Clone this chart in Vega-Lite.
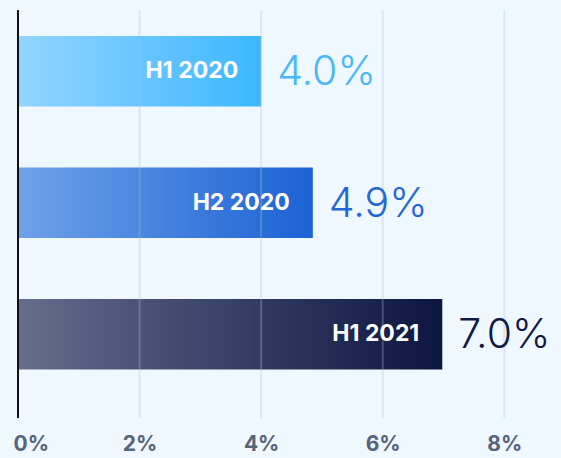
{
  "$schema": "https://vega.github.io/schema/vega-lite/v6.json",
  "width": 541,
  "height": 408,
  "autosize": {"type": "none"},
  "padding": {"left": 18, "top": 10, "right": 2, "bottom": 40},
  "background": "#eff7ff",
  "config": {"view": {"stroke": null}, "font": "Inter"},
  "datasets": {
    "bars": [
      {"period": "H1 2020", "share": 4.0, "label": "4.0%"},
      {"period": "H2 2020", "share": 4.85, "label": "4.9%"},
      {"period": "H1 2021", "share": 6.98, "label": "7.0%"}
    ],
    "grid": [{"g": 2}, {"g": 4}, {"g": 6}, {"g": 8}],
    "zero": [{"g": 0}]
  },
  "layer": [
    {
      "data": {"name": "bars"},
      "mark": {"type": "bar"},
      "encoding": {
        "y": {"field": "period", "type": "nominal", "sort": null, "axis": null,
              "scale": {"range": [0, 385.5], "paddingInner": 0.4639, "paddingOuter": 0.1977}},
        "x": {"field": "share", "type": "quantitative",
              "scale": {"domain": [0, 8.9], "nice": false},
              "axis": {"values": [0, 2, 4, 6, 8], "labelExpr": "datum.value + '%'", "grid": false, "domain": false, "ticks": false,
                       "title": null, "labelFont": "Inter", "labelFontWeight": "bold", "labelFontSize": 21, "labelColor": "#56657a",
                       "labelPadding": 15, "labelFlush": true, "labelFlushOffset": 5}},
        "fill": {
          "condition": [
            {"test": "datum.period === 'H1 2020'", "value": {"gradient": "linear", "x1": 0, "y1": 0, "x2": 1, "y2": 0,
              "stops": [{"offset": 0, "color": "#93d5fe"}, {"offset": 1, "color": "#3db7ff"}]}},
            {"test": "datum.period === 'H2 2020'", "value": {"gradient": "linear", "x1": 0, "y1": 0, "x2": 1, "y2": 0,
              "stops": [{"offset": 0, "color": "#6fa1e8"}, {"offset": 1, "color": "#1b62d4"}]}}
          ],
          "value": {"gradient": "linear", "x1": 0, "y1": 0, "x2": 1, "y2": 0,
              "stops": [{"offset": 0, "color": "#646d8b"}, {"offset": 1, "color": "#0b1540"}]}
        }
      }
    },
    {
      "data": {"name": "grid"},
      "mark": {"type": "rule", "color": "#b4c0ce", "opacity": 0.3, "strokeWidth": 2},
      "encoding": {"x": {"field": "g", "type": "quantitative"}}
    },
    {
      "data": {"name": "zero"},
      "mark": {"type": "rule", "color": "#111111", "strokeWidth": 2},
      "encoding": {"x": {"field": "g", "type": "quantitative"}}
    },
    {
      "data": {"name": "bars"},
      "mark": {"type": "text", "align": "right", "baseline": "middle", "dx": -23, "fontSize": 23, "fontWeight": "bold", "color": "#ffffff", "font": "Inter", "letterSpacing": -0.5},
      "encoding": {
        "y": {"field": "period", "type": "nominal", "sort": null, "axis": null},
        "x": {"field": "share", "type": "quantitative"},
        "text": {"field": "period"}
      }
    },
    {
      "data": {"name": "bars"},
      "mark": {"type": "text", "align": "left", "baseline": "middle", "dx": 16, "dy": 2, "fontSize": 41, "fontWeight": 300, "font": "Inter"},
      "encoding": {
        "y": {"field": "period", "type": "nominal", "sort": null, "axis": null},
        "x": {"field": "share", "type": "quantitative"},
        "text": {"field": "label"},
        "color": {
          "condition": [
            {"test": "datum.period === 'H1 2020'", "value": "#48b8f8"},
            {"test": "datum.period === 'H2 2020'", "value": "#2468d4"}
          ],
          "value": "#101a42"
        }
      }
    }
  ]
}
